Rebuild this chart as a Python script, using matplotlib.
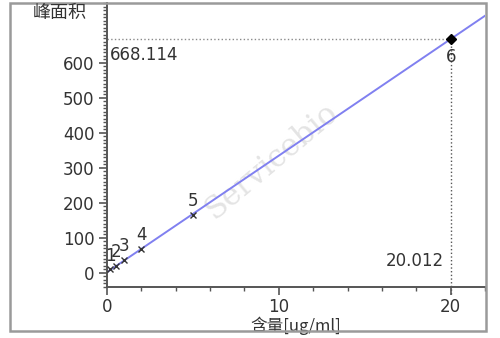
import matplotlib
matplotlib.use('Agg')
import matplotlib.pyplot as plt
from matplotlib.ticker import MultipleLocator
import numpy as np

# standard curve points
conc = [0.2, 0.5, 1.0, 2.0, 5.0, 20.012]
area = [10.0, 20.0, 36.0, 68.0, 166.0, 668.114]
point_labels = ['1', '2', '3', '4', '5', '6']

x_ticks = [0, 10, 20]
y_ticks = [0, 100, 200, 300, 400, 500, 600]

cjk = ['Noto Sans CJK SC', 'DejaVu Sans']
txt_color = '#333333'

fig = plt.figure(figsize=(5.0, 3.38), dpi=100)
W, H = 500, 338
ax = fig.add_axes([107 / W, 1 - 287 / H, (485 - 107) / W, (287 - 3) / H])

# outer frame of the picture
fig.add_artist(plt.Rectangle((10 / W, 1 - 331 / H), (486 - 10) / W, (331 - 3) / H,
                             transform=fig.transFigure, fill=False,
                             ec='#9a9a9a', lw=1.8))

# fitted line
slope, icpt = np.polyfit(conc, area, 1)
xl = np.array([0, 22])
ax.plot(xl, slope * xl + icpt, color='#8080f0', lw=1.4, zorder=2)

# points
ax.plot(conc[:-1], area[:-1], 'x', color='#333333', ms=4.5, mew=1.0, zorder=3)
ax.plot(conc[-1:], area[-1:], 'D', color='black', ms=5, zorder=4)

for i, lab in enumerate(point_labels):
    dy = -13 if i == len(conc) - 1 else 10
    ax.annotate(lab, (conc[i], area[i]), xytext=(0, dy), textcoords='offset points',
                ha='center', va='center', fontsize=12, color=txt_color)

# guide lines to the last point
ax.plot([0, conc[-1]], [area[-1], area[-1]], ':', color='#8a8a8a', lw=1.0, zorder=1)
ax.plot([conc[-1], conc[-1]], [-60, area[-1]], ':', color='#555555', lw=1.0,
        zorder=1, clip_on=False)
ax.text(0.17, 623, f'{area[-1]:.3f}', fontsize=12, color=txt_color, va='center', ha='left')
ax.text(19.6, 34, f'{conc[-1]:.3f}', fontsize=12, color=txt_color, va='center', ha='right')

# watermark
ax.text(9.6, 320, 'Servicebio', rotation=40, fontsize=22, family='DejaVu Serif',
        color='#e4e4e4', ha='center', va='center', zorder=0)

ax.set_xlim(0, 22)
ax.set_ylim(-40, 770)
ax.set_xticks(x_ticks)
ax.set_yticks(y_ticks)
ax.xaxis.set_minor_locator(MultipleLocator(2))
ax.yaxis.set_minor_locator(MultipleLocator(10))
ax.tick_params(which='major', length=6, width=1.2, color='#555555',
               labelsize=12, labelcolor=txt_color, pad=3)
ax.tick_params(axis='x', which='major', pad=2)
ax.tick_params(which='minor', length=3, width=1.0, color='#555555')

for side in ['top', 'right']:
    ax.spines[side].set_visible(False)
for side in ['left', 'bottom']:
    ax.spines[side].set_color('#555555')
    ax.spines[side].set_linewidth(1.4)

ax.set_xlabel('含量[ug/ml]', family=cjk, fontsize=12, color=txt_color)
ax.xaxis.set_label_coords(0.5, -0.105)
fig.text(87 / W, 1 - 13 / H, '峰面积', family=cjk, fontsize=13, color=txt_color,
         ha='right', va='center')

fig.savefig('out.png', dpi=100)
